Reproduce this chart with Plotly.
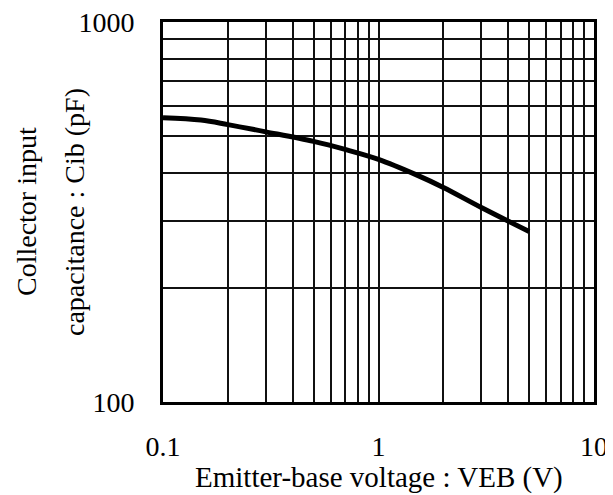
import plotly.graph_objects as go

# Data
veb = [0.1, 0.15, 0.2, 0.3, 0.5, 0.7, 1, 1.5, 2, 3, 5]
cib = [560, 552, 537, 514, 485, 462, 435, 396, 367, 325, 281]

x_ticks = [0.1, 1, 10]
x_ticklabels = ["0.1", "1", "10"]
y_ticks = [100, 1000]
y_ticklabels = ["100", "1000"]

x_grid = [m * d for d in (0.1, 1) for m in range(1, 10)] + [10]
y_grid = [m * 100 for m in range(1, 10)] + [1000]

FONT = "Liberation Serif"

fig = go.Figure()
fig.add_trace(go.Scatter(x=veb, y=cib, mode="lines",
                         line=dict(color="black", width=5, shape="spline"),
                         showlegend=False, hoverinfo="skip"))

fig.update_layout(
    width=605, height=487,
    margin=dict(l=155, r=19, t=14, b=93),
    paper_bgcolor="white", plot_bgcolor="white",
    font=dict(family=FONT, color="black", size=28),
    xaxis=dict(type="log", range=[-1, 1], automargin=False,
               tickvals=x_grid,
               ticktext=[x_ticklabels[x_ticks.index(v)] if v in x_ticks else "" for v in x_grid],
               showgrid=True, gridcolor="#111", gridwidth=1.6,
               showline=True, mirror=True, linecolor="black", linewidth=3,
               ticks="", ticklabelstandoff=17, zeroline=False,
               ticklabeloverflow="allow",
               tickfont=dict(family=FONT, size=28, color="black")),
    yaxis=dict(type="log", range=[2, 3], automargin=False,
               tickvals=y_grid,
               ticktext=[y_ticklabels[y_ticks.index(v)] if v in y_ticks else "" for v in y_grid],
               showgrid=True, gridcolor="#111", gridwidth=1.6,
               showline=True, mirror=True, linecolor="black", linewidth=3,
               ticks="", ticklabelstandoff=20, zeroline=False,
               ticklabeloverflow="allow",
               tickfont=dict(family=FONT, size=28, color="black")),
    annotations=[
        dict(text="Emitter-base voltage : VEB (V)", xref="paper", yref="paper",
             x=0.5, y=0, xanchor="center", yanchor="middle", yshift=-75,
             showarrow=False, font=dict(family=FONT, size=29, color="black")),
        dict(text="Collector input", xref="paper", yref="paper",
             x=0, y=0.5, xanchor="center", yanchor="middle", xshift=-137,
             textangle=-90, showarrow=False,
             font=dict(family=FONT, size=28, color="black")),
        dict(text="capacitance : Cib (pF)", xref="paper", yref="paper",
             x=0, y=0.5, xanchor="center", yanchor="middle", xshift=-89,
             textangle=-90, showarrow=False,
             font=dict(family=FONT, size=28, color="black")),
    ],
)

fig.write_html("out.html")
